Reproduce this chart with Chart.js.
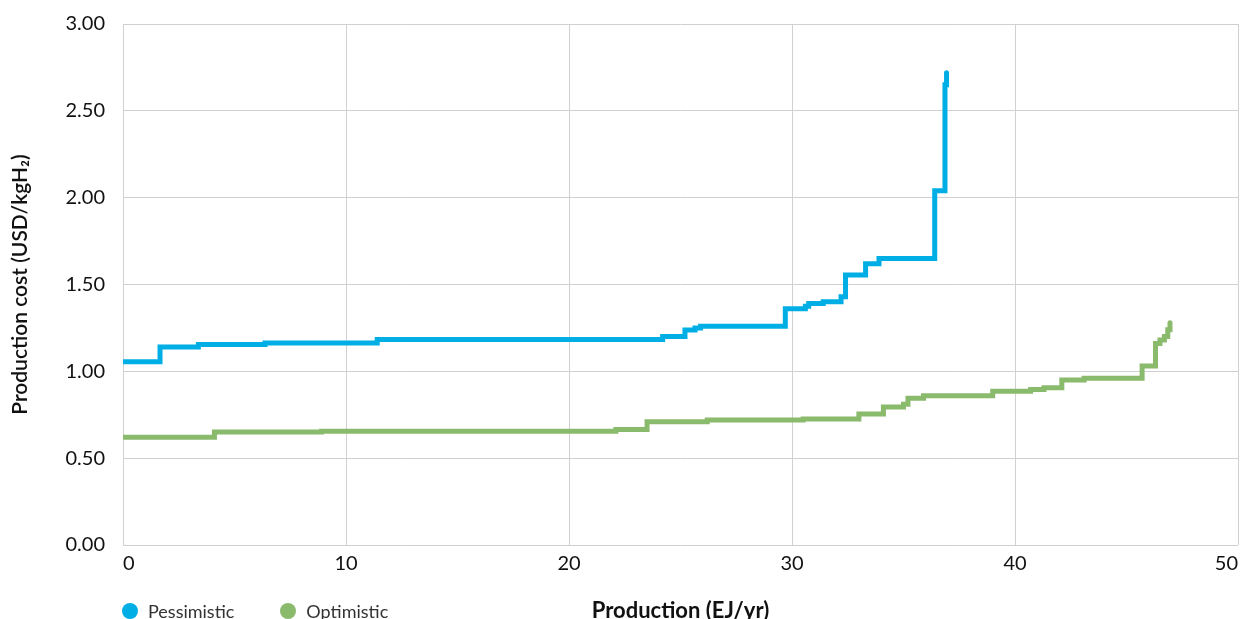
<!DOCTYPE html>
<html>
<head>
<meta charset="utf-8">
<script src="https://cdn.jsdelivr.net/npm/chart.js@4"></script>
<style>
    html, body { margin: 0; padding: 0; background: #fff; overflow: hidden; }
    #wrap { position: relative; width: 1242px; height: 619px; }
    #legend { position: absolute; left: 122px; top: 600px; font-family: Lato, sans-serif; font-size: 18px; color: #333; display: flex; }
    .item { display: flex; align-items: center; margin-right: 46px; }
    .dot { width: 16px; height: 16px; border-radius: 50%; margin-right: 10px; }
</style>
</head>
<body>
<div id="wrap">
    <canvas id="chart" width="1242" height="619"></canvas>
    <div id="legend"></div>
</div>
<script>
    // Step positions (EJ/yr) and cost levels (USD/kgH2)
    const pessX = [0, 1.66, 3.38, 6.37, 11.4, 24.2, 25.2, 25.65, 25.9, 29.7, 30.6, 30.75, 31.4, 32.2, 32.4, 33.3, 33.9, 36.4, 36.86, 36.93];
    const pessY = [1.055, 1.14, 1.155, 1.163, 1.184, 1.20, 1.238, 1.25, 1.26, 1.36, 1.375, 1.39, 1.40, 1.43, 1.555, 1.62, 1.65, 2.04, 2.65, 2.72];
    const optX = [0, 4.1, 8.9, 22.1, 23.5, 26.2, 30.5, 33.0, 34.1, 35.0, 35.2, 35.9, 39.0, 40.7, 41.3, 42.1, 43.1, 45.7, 46.3, 46.5, 46.7, 46.85, 46.95];
    const optY = [0.62, 0.65, 0.655, 0.665, 0.71, 0.72, 0.725, 0.755, 0.795, 0.81, 0.845, 0.86, 0.885, 0.895, 0.905, 0.95, 0.96, 1.03, 1.16, 1.18, 1.20, 1.24, 1.28];

    const seriesNames = ['Pessimistic', 'Optimistic'];
    const seriesColors = ['#00aee6', '#8aba6c'];

    const xTicks = [0, 10, 20, 30, 40, 50];
    const yTicks = [0, 0.5, 1, 1.5, 2, 2.5, 3];

    const toPoints = (xs, ys) => xs.map((x, i) => ({ x: x, y: ys[i] }));

    const font = 'Lato, sans-serif';
    const ctx = document.getElementById('chart').getContext('2d');

    new Chart(ctx, {
        type: 'line',
        data: {
            datasets: [
                {
                    label: seriesNames[0],
                    data: toPoints(pessX, pessY),
                    borderColor: seriesColors[0],
                    borderWidth: 5,
                    borderCapStyle: 'round',
                    stepped: 'before',
                    pointRadius: 0,
                    fill: false
                },
                {
                    label: seriesNames[1],
                    data: toPoints(optX, optY),
                    borderColor: seriesColors[1],
                    borderWidth: 5,
                    borderCapStyle: 'round',
                    stepped: 'before',
                    pointRadius: 0,
                    fill: false
                }
            ]
        },
        options: {
            responsive: false,
            animation: false,
            layout: { padding: { top: 24, right: 4, bottom: 0, left: 0 } },
            plugins: {
                legend: { display: false },
                tooltip: { enabled: false }
            },
            scales: {
                x: {
                    type: 'linear',
                    min: 0,
                    max: 50,
                    afterBuildTicks: s => { s.ticks = xTicks.map(v => ({ value: v })); },
                    grid: { color: '#d0d0d0', lineWidth: 1, drawTicks: false },
                    border: { display: false },
                    ticks: { color: '#111', font: { family: font, size: 20 }, padding: 7, maxRotation: 0, align: 'inner' },
                    title: {
                        display: true,
                        text: 'Production (EJ/yr)',
                        color: '#111',
                        font: { family: font, size: 22, weight: 'bold' },
                        padding: { top: 0, bottom: -5 }
                    },
                    afterFit: s => { s.height = 74; s.paddingLeft = 0; s.paddingRight = 0; }
                },
                y: {
                    min: 0,
                    max: 3,
                    afterBuildTicks: s => { s.ticks = yTicks.map(v => ({ value: v })); },
                    grid: { color: '#d0d0d0', lineWidth: 1, drawTicks: false },
                    border: { display: false },
                    ticks: {
                        color: '#111',
                        font: { family: font, size: 20 },
                        padding: 18,
                        callback: v => v.toFixed(2)
                    },
                    title: {
                        display: true,
                        text: 'Production cost (USD/kgH₂)',
                        color: '#111',
                        font: { family: font, size: 21, weight: '600' },
                        padding: { top: 8, bottom: 0 }
                    },
                    afterFit: s => { s.width = 123; s.paddingTop = 0; s.paddingBottom = 0; }
                }
            }
        }
    });

    // Legend
    const legend = document.getElementById('legend');
    seriesNames.forEach((name, i) => {
        const item = document.createElement('div');
        item.className = 'item';
        item.innerHTML = '<span class="dot" style="background:' + seriesColors[i] + '"></span>' + name;
        legend.appendChild(item);
    });
</script>
</body>
</html>
